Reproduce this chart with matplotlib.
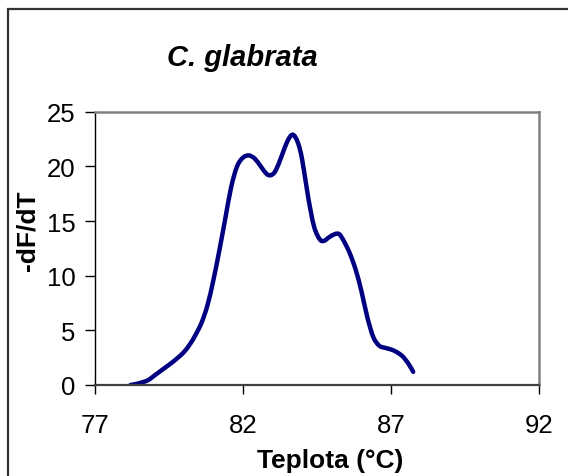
import matplotlib
matplotlib.use("Agg")
import matplotlib.pyplot as plt
from matplotlib.patches import Rectangle, PathPatch
from matplotlib.path import Path

# Melting-curve derivative for C. glabrata
temperature = [78.2, 78.4, 78.6, 78.8, 79.0, 79.2, 79.4, 79.6, 79.8, 80.0,
               80.2, 80.4, 80.6, 80.8, 81.0, 81.2, 81.4, 81.6, 81.8, 82.0,
               82.2, 82.4, 82.6, 82.8, 82.95, 83.1, 83.3, 83.5, 83.68, 83.85,
               84.0, 84.2, 84.4, 84.6, 84.75, 84.9, 85.1, 85.25, 85.4, 85.6,
               85.8, 86.0, 86.2, 86.4, 86.6, 86.8, 87.0, 87.2, 87.4, 87.6, 87.75]
neg_dfdt = [0.0, 0.1, 0.25, 0.45, 0.85, 1.25, 1.65, 2.05, 2.5, 3.0,
            3.7, 4.6, 5.7, 7.3, 9.6, 12.3, 15.2, 18.1, 20.0, 20.8,
            21.0, 20.7, 20.0, 19.3, 19.2, 19.6, 20.9, 22.3, 22.9, 22.2,
            20.6, 17.2, 14.5, 13.3, 13.2, 13.5, 13.8, 13.8, 13.2, 12.1,
            10.6, 8.6, 6.2, 4.4, 3.6, 3.4, 3.25, 3.0, 2.6, 1.9, 1.2]

x_ticks = [77, 82, 87, 92]
y_ticks = [0, 5, 10, 15, 20, 25]

title_text = "C. glabrata"
x_label = "Teplota (°C)"
y_label = "-dF/dT"


def smooth_path(xs, ys, tension=1 / 6):
    """Catmull-Rom style cubic Bezier through every point (spreadsheet 'smoothed line')."""
    n = len(xs)
    verts = [(xs[0], ys[0])]
    codes = [Path.MOVETO]
    for i in range(n - 1):
        x0, y0 = (xs[i - 1], ys[i - 1]) if i > 0 else (xs[i], ys[i])
        x1, y1 = xs[i], ys[i]
        x2, y2 = xs[i + 1], ys[i + 1]
        x3, y3 = (xs[i + 2], ys[i + 2]) if i + 2 < n else (x2, y2)
        c1 = (x1 + (x2 - x0) * tension, y1 + (y2 - y0) * tension)
        c2 = (x2 - (x3 - x1) * tension, y2 - (y3 - y1) * tension)
        verts += [c1, c2, (x2, y2)]
        codes += [Path.CURVE4, Path.CURVE4, Path.CURVE4]
    return Path(verts, codes)


plt.rcParams['font.family'] = ['Liberation Sans', 'DejaVu Sans']

W, H = 568, 477
fig = plt.figure(figsize=(W / 100, H / 100), dpi=100)
fig.patch.set_facecolor('white')

# Chart-area frame (runs off the right and bottom edges)
fig.patches.append(Rectangle((8 / W, -0.05), 1.2, (H - 10) / H + 0.05,
                             transform=fig.transFigure, fill=False,
                             edgecolor='#333333', linewidth=1.6))

ax = fig.add_axes([95 / W, 1 - 386 / H, (539 - 95) / W, (386 - 112.7) / H])
ax.add_patch(PathPatch(smooth_path(temperature, neg_dfdt), fill=False,
                       edgecolor='#000080', linewidth=3.2,
                       capstyle='round', joinstyle='round'))

ax.set_xlim(77, 92)
ax.set_ylim(0, 25)
ax.set_xticks(x_ticks)
ax.set_yticks(y_ticks)
ax.set_xticklabels([str(t) for t in x_ticks])
ax.set_yticklabels([str(t) for t in y_ticks])

ax.tick_params(axis='x', direction='out', length=6.5, width=1, colors='black',
               pad=13.5, labelsize=18.5)
ax.tick_params(axis='y', direction='out', length=7, width=1, colors='black',
               pad=7, labelsize=18.5)

ax.spines['left'].set_color('black')
ax.spines['left'].set_linewidth(1)
ax.spines['bottom'].set_color('#404040')
ax.spines['bottom'].set_linewidth(1.6)
for side in ('top', 'right'):
    ax.spines[side].set_color('#808080')
    ax.spines[side].set_linewidth(1.8)

fig.text(242 / W, 1 - 58 / H, title_text, ha='center', va='center',
         fontsize=21, fontweight='bold', fontstyle='italic')
fig.text(330 / W, 1 - 461 / H, x_label, ha='center', va='center',
         fontsize=19, fontweight='bold')
fig.text(28 / W, 1 - 230.5 / H, y_label, ha='center', va='center',
         fontsize=19, fontweight='bold', rotation=90)

fig.savefig('out.png', dpi=100, facecolor='white')
